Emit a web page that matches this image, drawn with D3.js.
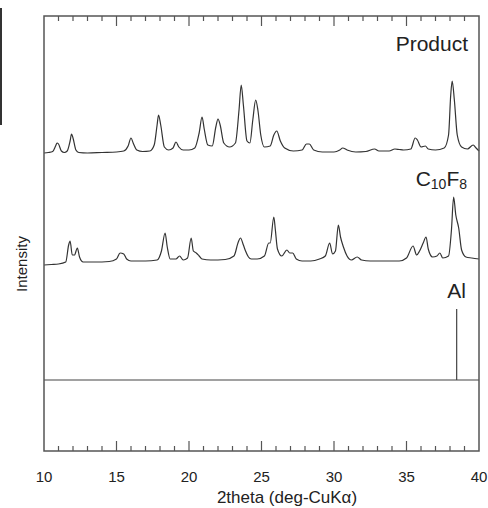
<!DOCTYPE html>
<html>
<head>
<meta charset="utf-8">
<script src="https://cdn.jsdelivr.net/npm/d3@7"></script>
<style>
  body { margin: 0; background: #fff; }
  svg { display: block; font-family: "Liberation Sans", Arial, sans-serif; }
</style>
</head>
<body>
<svg id="chart" width="488" height="508"></svg>
<script>
// 2theta (deg) and height above each pattern's own baseline
const productTheta = [10.0, 10.3, 10.6, 10.8, 10.9, 11.0, 11.2, 11.4, 11.6, 11.8, 11.9, 12.0, 12.2, 12.4, 13.0, 14.0, 15.0, 15.5, 15.8, 16.0, 16.15, 16.4, 16.8, 17.3, 17.6, 17.8, 17.9, 18.05, 18.3, 18.6, 18.9, 19.1, 19.3, 19.6, 20.0, 20.4, 20.7, 20.9, 21.05, 21.3, 21.6, 21.85, 22.0, 22.15, 22.4, 22.8, 23.2, 23.45, 23.6, 23.75, 24.0, 24.2, 24.4, 24.6, 24.75, 24.95, 25.2, 25.6, 25.85, 26.05, 26.3, 26.6, 27.2, 27.8, 28.1, 28.3, 28.6, 29.2, 30.0, 30.4, 30.6, 30.9, 31.5, 32.2, 32.8, 33.1, 33.8, 34.2, 34.5, 34.8, 35.3, 35.6, 35.75, 36.0, 36.3, 36.5, 37.0, 37.6, 37.9, 38.05, 38.15, 38.3, 38.5, 38.8, 39.2, 39.6, 39.8, 40.0]
const productCounts = [2, 2.5, 3.5, 9, 12, 11, 4, 2.5, 4, 14, 21, 17, 5, 2.5, 2, 2.5, 3, 4, 9, 17, 12, 5, 3.5, 4, 10, 30, 40, 30, 8, 5, 7, 13, 8, 5, 5, 7, 22, 38, 26, 10, 9, 28, 36, 30, 12, 8, 12, 45, 70, 50, 14, 12, 35, 55, 45, 20, 8, 9, 20, 24, 14, 7, 4, 5, 11, 11, 5, 3, 3, 5, 7, 5, 3, 3.5, 6, 4, 4, 6, 5.5, 5, 6, 17, 15, 8, 9, 6, 5, 7, 20, 60, 74, 55, 20, 8, 6, 10, 7, 4]

const c10f8Theta = [10.0, 10.5, 11.0, 11.5, 11.7, 11.8, 11.95, 12.1, 12.3, 12.45, 12.7, 13.5, 14.5, 15.0, 15.25, 15.5, 15.7, 16.0, 17.0, 17.8, 18.1, 18.35, 18.5, 18.7, 19.1, 19.35, 19.6, 19.9, 20.15, 20.3, 20.5, 20.7, 20.9, 21.5, 22.5, 23.1, 23.4, 23.55, 23.75, 23.9, 24.1, 24.3, 24.7, 25.2, 25.5, 25.6, 25.85, 25.95, 26.1, 26.4, 26.75, 26.95, 27.15, 27.4, 27.8, 28.4, 29.0, 29.4, 29.7, 29.9, 30.1, 30.3, 30.45, 30.65, 30.9, 31.2, 31.6, 31.9, 32.5, 33.5, 34.5, 35.0, 35.45, 35.7, 35.9, 36.15, 36.35, 36.5, 36.8, 37.1, 37.3, 37.5, 37.9, 38.1, 38.25, 38.4, 38.6, 38.8, 39.1, 39.5, 40.0]
const c10f8Counts = [0, 0.5, 1, 3, 20, 24, 10, 10, 17, 8, 3, 3, 3.5, 6, 12, 11, 6, 4, 4, 5, 14, 32, 18, 6, 6, 9, 5, 7, 27, 14, 12, 9, 6, 5, 5.5, 9, 23, 27, 20, 14, 8, 6, 6, 9, 22, 22, 48, 36, 16, 9, 15, 12, 12, 6, 4, 4, 6, 9, 22, 11, 14, 40, 28, 18, 9, 5, 8, 5, 4, 4, 4, 7, 19, 10, 14, 22, 28, 16, 8, 9, 12, 7, 9, 35, 68, 50, 37, 15, 8, 7, 6]

const alTheta = [38.46]
const alCounts = [71]

const xTicks = [10, 15, 20, 25, 30, 35, 40]
const labels = ["Product", "C10F8", "Al"]
const offsets = [296, 186, 71]   // vertical shift of each pattern

const margin = { top: 16, right: 9, bottom: 57, left: 44 }
const width = 488 - margin.left - margin.right
const height = 508 - margin.top - margin.bottom

const svg = d3.select("#chart")

// stray edge of the neighbouring panel
svg.append("rect")
  .attr("x", 0).attr("y", 8)
  .attr("width", 2).attr("height", 117)
  .attr("fill", "#333")

const g = svg.append("g")
  .attr("transform", "translate(" + margin.left + "," + margin.top + ")")

const x = d3.scaleLinear().domain([10, 40]).range([0, width])
const y = d3.scaleLinear().domain([0, 435]).range([height, 0])

const pattern = (theta, counts) => theta.map((t, i) => [t, counts[i]])

function drawPattern(points, offset) {
  const line = d3.line()
    .curve(d3.curveMonotoneX)
    .x(d => x(d[0]))
    .y(d => y(d[1] + offset))
  g.append("path")
    .datum(points)
    .attr("fill", "none")
    .attr("stroke", "#333")
    .attr("stroke-width", 1.2)
    .attr("stroke-linejoin", "round")
    .attr("d", line)
}

drawPattern(pattern(productTheta, productCounts), offsets[0])
drawPattern(pattern(c10f8Theta, c10f8Counts), offsets[1])

// Al reference: baseline across the plot plus stick lines
g.append("line")
  .attr("x1", 0).attr("x2", width)
  .attr("y1", y(offsets[2])).attr("y2", y(offsets[2]))
  .attr("stroke", "#444").attr("stroke-width", 1.2)

g.selectAll("line.stick")
  .data(pattern(alTheta, alCounts))
  .enter().append("line")
  .attr("class", "stick")
  .attr("x1", d => x(d[0])).attr("x2", d => x(d[0]))
  .attr("y1", y(offsets[2])).attr("y2", d => y(offsets[2] + d[1]))
  .attr("stroke", "#444").attr("stroke-width", 1.2)

// frame
g.append("rect")
  .attr("width", width).attr("height", height)
  .attr("fill", "none").attr("stroke", "#555").attr("stroke-width", 1.5)

// inward ticks, bottom and top
const minor = d3.range(11, 40)
function ticks(yPos, dir) {
  g.selectAll(null)
    .data(minor)
    .enter().append("line")
    .attr("x1", d => x(d)).attr("x2", d => x(d))
    .attr("y1", yPos)
    .attr("y2", d => yPos + dir * (d % 5 === 0 ? 10 : 5))
    .attr("stroke", "#555").attr("stroke-width", 1.2)
}
ticks(height, -1)
ticks(0, 1)

g.selectAll("text.xtick")
  .data(xTicks)
  .enter().append("text")
  .attr("class", "xtick")
  .attr("x", d => x(d))
  .attr("y", height + 31)
  .attr("text-anchor", "middle")
  .attr("font-size", 15)
  .attr("fill", "#222")
  .text(d => d)

svg.append("text")
  .attr("x", 287)
  .attr("y", 503)
  .attr("text-anchor", "middle")
  .attr("font-size", 17)
  .attr("fill", "#222")
  .text("2theta (deg-CuK\u03b1)")

svg.append("text")
  .attr("transform", "translate(27,264) rotate(-90)")
  .attr("text-anchor", "middle")
  .attr("font-size", 15)
  .attr("fill", "#222")
  .text("Intensity")

// pattern labels
svg.append("text")
  .attr("x", 468).attr("y", 51)
  .attr("text-anchor", "end")
  .attr("font-size", 21).attr("fill", "#222")
  .text(labels[0])

const c = svg.append("text")
  .attr("x", 467).attr("y", 186)
  .attr("text-anchor", "end")
  .attr("font-size", 21).attr("fill", "#222")
c.append("tspan").text("C")
c.append("tspan").attr("font-size", 14).attr("dy", 3).text("10")
c.append("tspan").attr("dy", -3).text("F")
c.append("tspan").attr("font-size", 14).attr("dy", 3).text("8")

svg.append("text")
  .attr("x", 466).attr("y", 298)
  .attr("text-anchor", "end")
  .attr("font-size", 21).attr("fill", "#222")
  .text(labels[2])
</script>
</body>
</html>
